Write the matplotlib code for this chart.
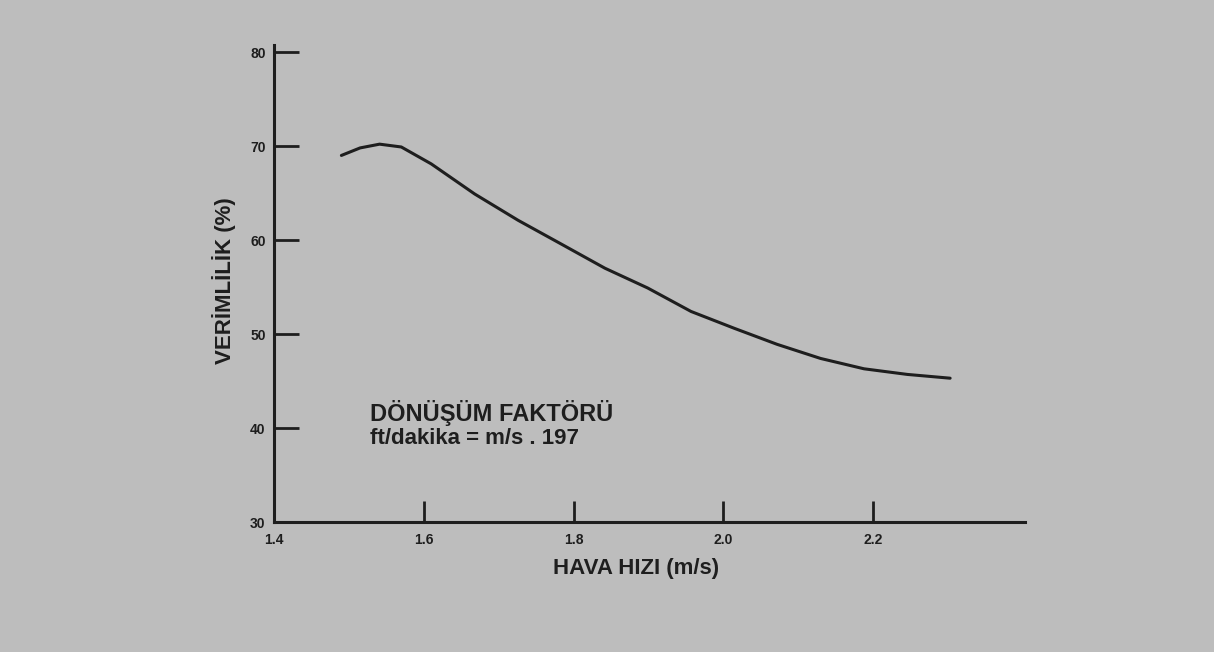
import matplotlib.pyplot as plt
import numpy as np

# curve
hava_hizi = [1.490, 1.515, 1.541, 1.570, 1.610, 1.668, 1.726, 1.783, 1.842,
             1.899, 1.957, 2.015, 2.072, 2.130, 2.188, 2.246, 2.303]
verimlilik = [69.0, 69.8, 70.2, 69.9, 68.1, 64.9, 62.1, 59.6, 57.0,
              54.9, 52.4, 50.6, 48.9, 47.4, 46.3, 45.7, 45.3]

x_ticks = [1.4, 1.6, 1.8, 2.0, 2.2]
x_labels = ['1.4', '1.6', '1.8', '2.0', '2.2']
y_ticks = [30, 40, 50, 60, 70, 80]
y_labels = ['30', '40', '50', '60', '70', '80']

bg = '#bdbdbd'
ink = '#1e1e1e'

plt.rcParams['font.family'] = ['Liberation Sans', 'DejaVu Sans']

fig = plt.figure(figsize=(12.14, 6.52), dpi=100)
fig.patch.set_facecolor(bg)

W, H = 1214, 652
ax = fig.add_axes([274 / W, 1 - 522 / H, (1025 - 274) / W, (522 - 45) / H])
ax.set_facecolor(bg)

ax.plot(hava_hizi, verimlilik, color=ink, lw=2.2, solid_capstyle='round',
        solid_joinstyle='round')

ax.set_xlim(1.4, 2.403)
ax.set_ylim(30, 80.75)

for s in ['top', 'right']:
    ax.spines[s].set_visible(False)
for s in ['left', 'bottom']:
    ax.spines[s].set_color(ink)
    ax.spines[s].set_linewidth(2.2)

ax.set_xticks(x_ticks, x_labels)
ax.set_yticks(y_ticks, y_labels)
ax.tick_params(axis='y', direction='in', length=18, width=2, color=ink,
               labelsize=10, labelcolor=ink, pad=6)
ax.tick_params(axis='x', direction='in', length=15, width=2, color=ink,
               labelsize=10, labelcolor=ink, pad=8)
for lab in ax.get_xticklabels() + ax.get_yticklabels():
    lab.set_fontweight('bold')

ax.set_ylabel('VERİMLİLİK (%)', fontsize=16, fontweight='bold', color=ink)
ax.yaxis.set_label_coords(-0.05, 0.505)
ax.set_xlabel('HAVA HIZI (m/s)', fontsize=16, fontweight='bold', color=ink)
ax.xaxis.set_label_coords(0.482, -0.075)

fig.text(370 / W, 1 - 413 / H, 'DÖNÜŞÜM FAKTÖRÜ', fontsize=17,
         fontweight='bold', color=ink, va='center', ha='left')
fig.text(370 / W, 1 - 439 / H, 'ft/dakika = m/s . 197', fontsize=16,
         fontweight='bold', color=ink, va='center', ha='left')

fig.savefig('out.png', dpi=100, facecolor=bg)
